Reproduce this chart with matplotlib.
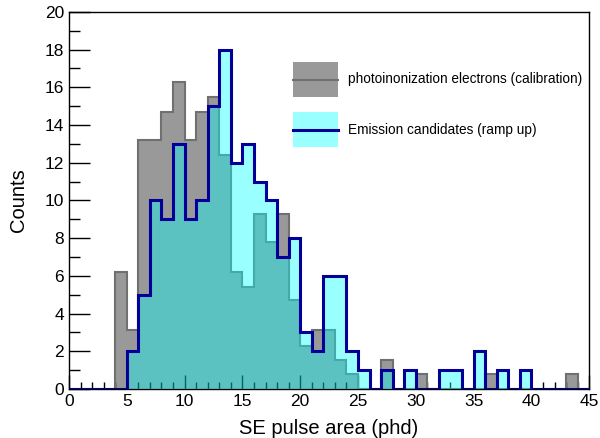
import numpy as np
import matplotlib
matplotlib.use("Agg")
import matplotlib.pyplot as plt
from matplotlib.patches import Rectangle
from matplotlib.lines import Line2D
from matplotlib.legend_handler import HandlerBase
from matplotlib.ticker import MultipleLocator

plt.rcParams['font.family'] = ['Liberation Sans', 'DejaVu Sans']

bin_edges = list(range(0, 46))
calib_counts = [0, 0, 0, 0, 6.2, 3.1, 13.2, 13.2, 14.7, 16.3,
                13.2, 14.7, 15.5, 12.4, 6.2, 5.4, 9.3, 7.8, 9.3, 4.7,
                2.3, 3.1, 3.1, 1.55, 0.78, 0, 0, 1.55, 0, 0,
                0.78, 0, 0, 0, 0, 0, 0.78, 0, 0, 0,
                0, 0, 0, 0.78, 0]
emission_counts = [0, 0, 0, 0, 0, 2, 5, 10, 9, 13,
                   9, 10, 15, 18, 12, 13, 11, 10, 7, 8,
                   3, 2, 6, 6, 2, 1, 0, 1, 0, 1,
                   0, 0, 1, 1, 0, 2, 0, 1, 0, 1,
                   0, 0, 0, 0, 0]
label_calib = "photoinonization electrons (calibration)"
label_emis = "Emission candidates (ramp up)"
xlabel = "SE pulse area (phd)"
ylabel = "Counts"

fig = plt.figure(figsize=(6.0, 4.38), dpi=100)
ax = fig.add_axes([0.115, 0.112, 0.867, 0.861])

gray_fill = '#999999'
gray_edge = '#707070'
blue = '#000099'
cyan_fill = (0.0, 1.0, 1.0, 0.4)

ax.stairs(calib_counts, bin_edges, fill=True, color=gray_fill, zorder=1)
ax.stairs(calib_counts, bin_edges, fill=False, color=gray_edge, lw=1.5, zorder=2)
ax.stairs(emission_counts, bin_edges, fill=True, color=cyan_fill, zorder=3)
ax.stairs(emission_counts, bin_edges, fill=False, color=blue, lw=2.2, zorder=4)

ax.set_xlim(0, 45)
ax.set_ylim(0, 20)
ax.xaxis.set_major_locator(MultipleLocator(5))
ax.xaxis.set_minor_locator(MultipleLocator(1))
ax.yaxis.set_major_locator(MultipleLocator(2))
ax.yaxis.set_minor_locator(MultipleLocator(1))
ax.tick_params(which='both', direction='in', top=False, right=False, labelsize=12.5, width=1.0)
ax.tick_params(which='major', axis='y', length=15)
ax.tick_params(which='minor', axis='y', length=8)
ax.tick_params(which='major', axis='x', length=10)
ax.tick_params(which='minor', axis='x', length=5)
for s in ax.spines.values():
    s.set_linewidth(1.0)

ax.set_xlabel(xlabel, fontsize=14.5, labelpad=7)
ax.set_ylabel(ylabel, fontsize=14.5, labelpad=12)


class BoxLine:
    def __init__(self, face, line_color, lw):
        self.face = face
        self.line_color = line_color
        self.lw = lw


class BoxLineHandler(HandlerBase):
    def create_artists(self, legend, orig_handle, xdescent, ydescent,
                       width, height, fontsize, trans):
        r = Rectangle((-xdescent, -ydescent), width, height,
                      facecolor=orig_handle.face, edgecolor='none', transform=trans)
        ymid = -ydescent + height / 2.0
        ln = Line2D([-xdescent, -xdescent + width], [ymid, ymid],
                    color=orig_handle.line_color, lw=orig_handle.lw, transform=trans)
        return [r, ln]


h1 = BoxLine(gray_fill, gray_edge, 1.5)
h2 = BoxLine(cyan_fill, blue, 2.2)
ax.legend([h1, h2], [label_calib, label_emis],
          handler_map={BoxLine: BoxLineHandler()},
          loc='upper left', bbox_to_anchor=(0.431, 0.867), borderpad=0,
          frameon=False, fontsize=9.8, handlelength=3.3, handleheight=3.6,
          handletextpad=0.7, labelspacing=1.1, borderaxespad=0)

fig.savefig('out.png', dpi=100)
